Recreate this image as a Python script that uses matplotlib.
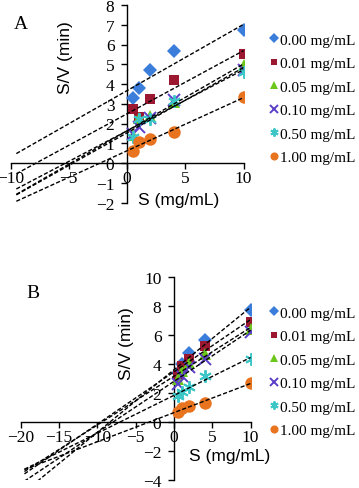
import numpy as np
import matplotlib
matplotlib.use("Agg")
import matplotlib.pyplot as plt

# ── data ────────────────────────────────────────────────
S = [0.5, 1, 2, 4, 10]
labels = ["0.00 mg/mL", "0.01 mg/mL", "0.05 mg/mL",
          "0.10 mg/mL", "0.50 mg/mL", "1.00 mg/mL"]

# panel A : S/V (min)
a_000 = [3.29, 3.81, 4.70, 5.66, 6.73]
a_001 = [2.75, 2.32, 3.25, 4.19, 5.54]
a_005 = [1.40, 2.27, 2.36, 3.08, 4.95]
a_010 = [1.45, 1.80, 2.30, 3.17, 4.70]
a_050 = [1.30, 2.25, 2.25, 3.15, 4.60]
a_100 = [0.63, 1.05, 1.22, 1.56, 3.34]

# panel B : S/V (min)
b_000 = [3.40, 4.05, 4.76, 5.68, 7.77]
b_001 = [3.26, 3.90, 4.37, 5.24, 6.94]
b_005 = [3.00, 3.56, 4.07, 4.71, 6.44]
b_010 = [2.65, 3.20, 3.80, 4.37, 6.25]
b_050 = [1.84, 2.07, 2.41, 3.17, 4.37]
b_100 = [0.69, 0.97, 1.15, 1.33, 2.71]

colors = ["#3b7ddb", "#9c1830", "#6cc71a", "#5a3ec8", "#3cc6c8", "#e8741f"]
markers = ["D", "s", "^", "x", (6, 2, 0), "o"]
msizes = [7.5, 7.5, 8, 8, 9, 9]

W, H = 359, 489
SERIF = "Liberation Serif"
SANS = "Liberation Sans"


def px(x, y):
    return x / W, 1 - y / H


def panel(ax, series, xlim, ylim, xticks, yticks, back):
    for ys, c, m, ms, lab in zip(series, colors, markers, msizes, labels):
        mew = 1.4 if m in ("x", (6, 2, 0)) else 0
        ax.plot(S, ys, linestyle="none", marker=m, ms=ms, color=c,
                mec=c, mew=mew, label=lab, zorder=3)
    # linear trendlines with backward forecast
    for ys in series:
        k, b = np.polyfit(S, ys, 1)
        xs = np.array([S[0] - back, S[-1]])
        ax.plot(xs, k * xs + b, color="black", lw=1.0,
                dashes=(3, 1.5), zorder=4)

    ax.set_xlim(*xlim)
    ax.set_ylim(*ylim)
    ax.spines["left"].set_position(("data", 0))
    ax.spines["bottom"].set_position(("data", 0))
    ax.spines["top"].set_visible(False)
    ax.spines["right"].set_visible(False)
    for sp in ("left", "bottom"):
        ax.spines[sp].set_linewidth(1.0)
    ax.set_xticks(xticks)
    ax.set_yticks(yticks)
    ax.tick_params(direction="out", length=4, width=1.0, labelsize=12.5)
    ax.tick_params(axis="y", pad=5)
    ax.tick_params(axis="x", pad=1)
    for t in ax.get_xticklabels() + ax.get_yticklabels():
        t.set_fontfamily(SERIF)
    ax.patch.set_alpha(0)


fig = plt.figure(figsize=(W / 100, H / 100), dpi=100)

axA = fig.add_axes([10.5 / W, 1 - 203.5 / H, 233 / W, 197.5 / H])
panel(axA, [a_000, a_001, a_005, a_010, a_050, a_100],
      (-10, 10), (-2, 8), [-10, -5, 0, 5, 10], range(-2, 9), 10)

axB = fig.add_axes([20.6 / W, 1 - 481.3 / H, 230 / W, 203 / H])
panel(axB, [b_000, b_001, b_005, b_010, b_050, b_100],
      (-20, 10), (-4, 10), [-20, -15, -10, -5, 0, 5, 10],
      range(-4, 11, 2), 20)

# axis titles and panel letters
fig.text(*px(65.5, 58), "S/V (min)", rotation=90, ha="center", va="center",
         fontsize=12.5, family=SANS)
fig.text(*px(179, 201), "S (mg/mL)", ha="center", va="center",
         fontsize=12.5, family=SANS)
fig.text(*px(21, 24.5), "A", ha="center", va="center",
         fontsize=14, family=SERIF)

fig.text(*px(126.7, 344), "S/V (min)", rotation=90, ha="center",
         va="center", fontsize=12.5, family=SANS)
fig.text(*px(230, 457), "S (mg/mL)", ha="center", va="center",
         fontsize=12.5, family=SANS)
fig.text(*px(33, 294), "B", ha="center", va="center",
         fontsize=14, family=SERIF)

# legends
for ax, top in ((axA, 34), (axB, 307)):
    fig.legend(*ax.get_legend_handles_labels(), loc="upper left",
               bbox_to_anchor=px(270, top), frameon=False,
               markerscale=0.65, handlelength=0.5, handletextpad=0.15,
               labelspacing=0.64, borderaxespad=0, borderpad=0,
               prop={"family": SERIF, "size": 11})

fig.savefig("out.png", dpi=100)
